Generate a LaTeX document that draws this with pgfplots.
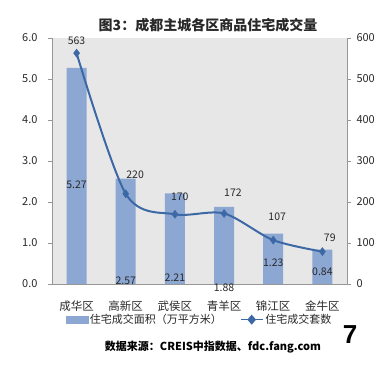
\documentclass[border=0pt]{standalone}
\usepackage{fontspec}
\setmainfont{Noto Sans CJK SC}
\newfontfamily\arialfont{Liberation Sans}
\usepackage{pgfplots}
\pgfplotsset{compat=1.18}
\definecolor{barc}{RGB}{141,167,211}
\definecolor{linec}{RGB}{60,105,165}
\definecolor{bgc}{RGB}{231,231,231}
\definecolor{axc}{RGB}{150,150,150}
\definecolor{txt}{RGB}{40,40,40}
\begin{document}
\begin{tikzpicture}[x=1pt,y=1pt]
\path[use as bounding box] (0,0) rectangle (391,371);
\begin{axis}[
  at={(52pt,87pt)}, anchor=south west, scale only axis,
  width=295pt, height=246pt,
  xmin=-0.5, xmax=5.5, ymin=0, ymax=6,
  clip=false,
  axis background/.style={fill=bgc},
  axis x line*=bottom, axis y line*=left,
  axis line style={draw=axc, -},
  tick align=outside, major tick length=4pt,
  tick style={draw=axc},
  ytick={0,1,...,6},
  /pgf/number format/assume math mode=true,
  y tick label style={/pgf/number format/.cd, fixed, fixed zerofill, precision=1, /tikz/.cd, xshift=-7pt},
  ticklabel style={font=\fontsize{11}{13}\selectfont, text=txt},
  xtick={0,1,2,3,4,5},
  xticklabels={成华区,高新区,武侯区,青羊区,锦江区,金牛区},
  x tick label style={font=\fontsize{11.5}{13}\selectfont, text=txt, yshift=-9pt},
  xtick style={draw=none},
  extra x ticks={-0.5,0.5,1.5,2.5,3.5,4.5,5.5},
  extra x tick labels={},
  extra x tick style={tick style={draw=axc}},
]
\addplot[ybar, bar width=20pt, fill=barc, draw=none]
  coordinates {(0,5.27)(1,2.57)(2,2.21)(3,1.88)(4,1.23)(5,0.84)};
\begin{scope}[every node/.style={font=\fontsize{10.5}{12}\selectfont, text=txt}]
\node at (axis cs:0,2.43) {5.27};
\node at (axis cs:1,0.07) {2.57};
\node at (axis cs:2,0.15) {2.21};
\node at (axis cs:3,-0.10) {1.88};
\node at (axis cs:4,0.51) {1.23};
\node at (axis cs:5,0.29) {0.84};
\end{scope}
\end{axis}
\begin{axis}[
  at={(52pt,87pt)}, anchor=south west, scale only axis,
  width=295pt, height=246pt,
  xmin=-0.5, xmax=5.5, ymin=0, ymax=600,
  clip=false,
  axis x line=none, axis y line*=right,
  axis line style={draw=axc, -},
  tick align=outside, major tick length=4pt,
  tick style={draw=axc},
  ytick={0,100,...,600},
  /pgf/number format/assume math mode=true,
  ticklabel style={font=\fontsize{11}{13}\selectfont, text=txt},
  y tick label style={xshift=2pt},
  legend style={at={(0.5,-0.145)}, anchor=center, draw=none, fill=none,
    legend columns=2, font=\fontsize{11}{13}\selectfont, text=txt,
    /tikz/every even column/.append style={column sep=16pt},
    legend cell align=left},
]
\addlegendimage{legend image code/.code={\fill[barc] (0pt,-3.5pt) rectangle (22pt,3.5pt);}}
\addlegendentry{住宅成交面积（万平方米）}
\addplot[linec, line width=2pt, smooth, mark=diamond*, mark size=4pt,
  mark options={fill=linec, draw=linec, line width=0.5pt},
  legend image code/.code={\draw[linec, line width=1.5pt] (0pt,0pt) -- (22pt,0pt);
     \fill[linec] (11pt,3.5pt) -- (14pt,0pt) -- (11pt,-3.5pt) -- (8pt,0pt) -- cycle;}]
  coordinates {(0,563)(1,220)(2,170)(3,172)(4,107)(5,79)};
\addlegendentry{住宅成交套数}
\begin{scope}[every node/.style={font=\fontsize{10.5}{12}\selectfont, text=txt}]
\node at (axis cs:0,593) {563};
\node at (axis cs:1.19,267) {220};
\node at (axis cs:2.1,213) {170};
\node at (axis cs:3.18,223) {172};
\node at (axis cs:4.08,164) {107};
\node at (axis cs:5.15,113) {79};
\end{scope}
\end{axis}
\node[font=\bfseries\fontsize{14}{16}\selectfont, text=txt] at (208,346) {图3：成都主城各区商品住宅成交量};
\node[font=\bfseries\fontsize{11}{13}\selectfont, text=black] at (213,24) {数据来源：CREIS中指数据、fdc.fang.com};
\node[font=\arialfont\bfseries\fontsize{26}{30}\selectfont, text=black] at (350,36) {7};
\end{tikzpicture}
\end{document}
